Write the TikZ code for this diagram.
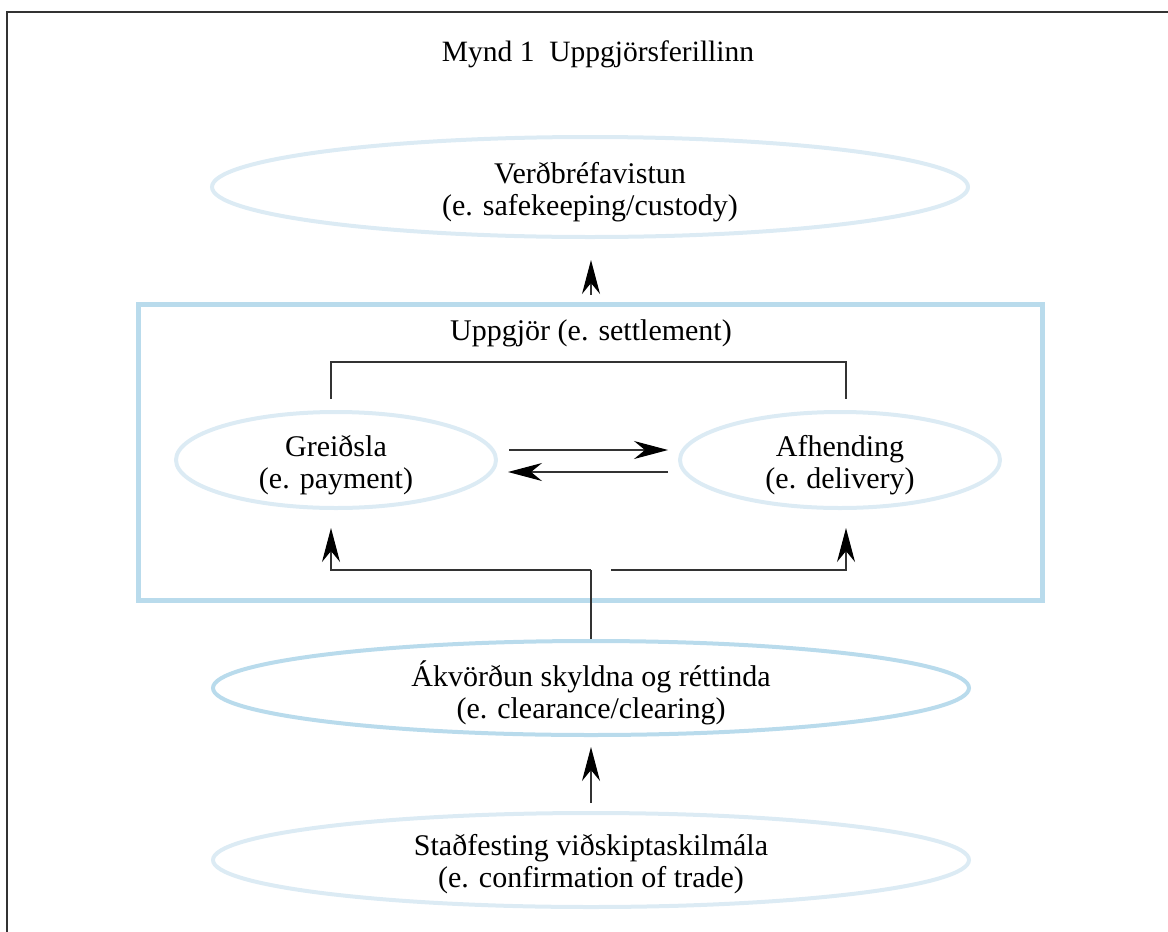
\documentclass[tikz,border=0pt]{standalone}
\usepackage{fontspec}
\setmainfont{Liberation Serif}
\usetikzlibrary{shapes.geometric,arrows.meta}
\definecolor{palebl}{HTML}{DCEBF4}
\definecolor{midbl}{HTML}{B9DBEC}
\definecolor{linegray}{HTML}{333333}
\tikzset{
  oval/.style={ellipse,draw=palebl,line width=4pt,inner sep=0pt},
  lbl/.style={align=center,font=\fontsize{30}{32}\selectfont},
  conn/.style={draw=linegray,line width=1.2pt},
  arr/.style={conn,-{Stealth[length=34pt,width=18pt,inset=11pt,black]}}
}
\begin{document}
\begin{tikzpicture}[x=1pt,y=-1pt]
\useasboundingbox (0,0) rectangle (1168,932);
% frame
\draw[linegray,line width=2pt] (7,932) -- (7,12) -- (1168,12);
% title
\node[lbl,font=\fontsize{29.5}{34}\selectfont] (title) at (598,54) {Mynd 1\ \ Uppgjörsferillinn};
% top ellipse
\node[oval,minimum width=756pt,minimum height=100pt] (custody) at (590,187) {};
\node[lbl,yshift=-5pt] (custodyT) at (custody.center) {Verðbréfavistun\\(e. safekeeping/custody)};
% settlement box
\node[draw=midbl,line width=5pt,minimum width=904pt,minimum height=296pt,inner sep=0pt] (box) at (590,452) {};
\node[lbl] (settle) at (591,333) {Uppgjör (e. settlement)};
% inner ellipses
\node[oval,minimum width=320pt,minimum height=96pt] (pay) at (336,460) {};
\node[lbl,yshift=-5pt] (payT) at (pay.center) {Greiðsla\\(e. payment)};
\node[oval,minimum width=320pt,minimum height=96pt] (deliv) at (840,460) {};
\node[lbl,yshift=-5pt] (delivT) at (deliv.center) {Afhending\\(e. delivery)};
% clearing
\node[oval,draw=midbl,minimum width=756pt,minimum height=94pt] (clear) at (591,688) {};
\node[lbl,yshift=-5pt] (clearT) at (clear.center) {Ákvörðun skyldna og réttinda\\(e. clearance/clearing)};
% confirmation
\node[oval,minimum width=756pt,minimum height=94pt] (confirm) at (591,860) {};
\node[lbl,yshift=-4pt] (confirmT) at (confirm.center) {Staðfesting viðskiptaskilmála\\(e. confirmation of trade)};
% connectors
\coordinate (topl) at (331,362);
\coordinate (topr) at (846,362);
\coordinate (split) at (591,570);
\coordinate (splitr) at (611,570);
\draw[conn] ([yshift=-37pt]topl) -- (topl) -- (topr) -- ([yshift=-37pt]topr);
\draw[arr] (509,450) -- (668,450);
\draw[arr] (668,472) -- (508,472);
\draw[conn] (clear.north) -- (split);
\draw[arr] (split) -| (topl |- 0,528);
\draw[arr] (splitr) -| (topr |- 0,528);
\draw[arr] (box.north) ++(1,-7) -- ([yshift=-21pt]custody.south -| 591,0);
\draw[arr] ([yshift=8pt]confirm.north) -- ([yshift=-10pt]clear.south);
\end{tikzpicture}
\end{document}
